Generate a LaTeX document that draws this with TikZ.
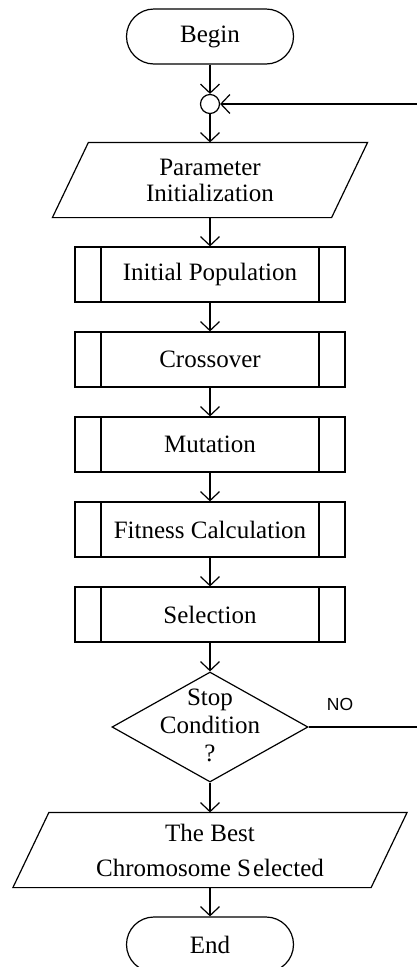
\documentclass[tikz,border=0pt]{standalone}
\usepackage{fontspec}
\setmainfont{Liberation Serif}
\newfontfamily\arialfont{Liberation Sans}
\usetikzlibrary{shapes.misc,shapes.geometric,arrows.meta}
\tikzset{
  base/.style={line width=1.2pt, draw=black, font=\fontsize{25}{27}\selectfont, align=center, inner sep=0pt},
  term/.style={base, rounded rectangle, minimum width=167pt, minimum height=55pt},
  proc/.style={base, rectangle, minimum width=270pt, minimum height=55pt,
    path picture={
      \draw[line width=1.2pt] ([xshift=26pt]path picture bounding box.north west) -- ([xshift=26pt]path picture bounding box.south west);
      \draw[line width=1.2pt] ([xshift=-26pt]path picture bounding box.north east) -- ([xshift=-26pt]path picture bounding box.south east);
    }},
  iobox/.style={base, draw=none, rectangle, minimum height=74pt},
  dec/.style={base, diamond, minimum width=196pt, minimum height=110pt},
  conn/.style={base, circle, minimum size=19pt},
  arr/.style={line width=1.2pt, -{Straight Barb[length=9pt,width=19pt,line width=1.2pt]}},
  ln/.style={line width=1.2pt}
}
\begin{document}
\begin{tikzpicture}[x=1pt,y=-1pt]
\useasboundingbox (0,0) rectangle (417,967);
\clip (0,0) rectangle (417,967);
\fill[white] (0,0) rectangle (417,967);

\node[term] (begin) at (210,36.5) {Begin};
\node[conn] (c) at (210,104) {};
\node[iobox, minimum width=278pt, font=\fontsize{25}{26}\selectfont] (par) at (210,180) {Parameter\\Initialization};
\draw[ln] ([xshift=18pt]par.north west) -- ([xshift=18pt]par.north east) -- ([xshift=-18pt]par.south east) -- ([xshift=-18pt]par.south west) -- cycle;
\node[proc] (ip) at (210,274.5) {Initial Population};
\node[proc] (cr) at (210,359.5) {Crossover};
\node[proc] (mu) at (210,444.5) {Mutation};
\node[proc] (fi) at (210,529.5) {Fitness Calculation};
\node[proc] (se) at (210,614.5) {Selection};
\node[dec] (d) at (210,727) {};
\node[base, draw=none, font=\fontsize{25}{28}\selectfont] (dt) at (210,725) {Stop\\Condition\\?};
\node[iobox, minimum width=357pt, font=\fontsize{25}{35}\selectfont] (best) at (210,850) {The Best\\Chromosome S\kern2pt elected};
\draw[ln] ([xshift=18pt]best.north west) -- ([xshift=18pt]best.north east) -- ([xshift=-18pt]best.south east) -- ([xshift=-18pt]best.south west) -- cycle;
\node[term] (end) at (210,944.5) {End};
\node[font=\arialfont\fontsize{17.5}{20}\selectfont, inner sep=0pt] (no) at (340,704) {NO};

\coordinate (r1) at (420,727);
\coordinate (r2) at (420,104);

\draw[arr] (begin.south) -- (c.north);
\draw[arr] (c.south) -- (par.north);
\draw[arr] (par.south) -- (ip.north);
\draw[arr] (ip.south) -- (cr.north);
\draw[arr] (cr.south) -- (mu.north);
\draw[arr] (mu.south) -- (fi.north);
\draw[arr] (fi.south) -- (se.north);
\draw[arr] (se.south) -- (d.north);
\draw[arr] (d.south) -- (best.north);
\draw[arr] (best.south) -- (end.north);
\draw[ln] (d.east) -- (r1) -- (r2);
\draw[arr] (r2) -- (c.east);
\end{tikzpicture}
\end{document}
